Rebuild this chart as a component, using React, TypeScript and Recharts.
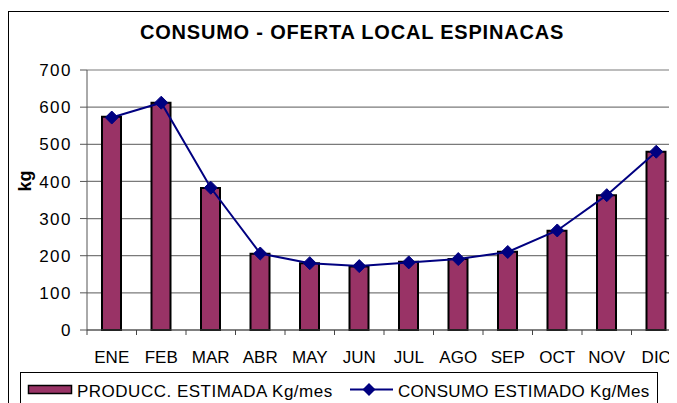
import React from 'react';
import { ComposedChart, Bar, Line, XAxis, YAxis, CartesianGrid, Legend } from 'recharts';

const months = ['ENE', 'FEB', 'MAR', 'ABR', 'MAY', 'JUN', 'JUL', 'AGO', 'SEP', 'OCT', 'NOV', 'DIC'];
const produccion = [574, 612, 382, 205, 180, 171, 184, 191, 211, 267, 363, 480];
const consumo = [572, 612, 383, 206, 180, 172, 182, 191, 210, 268, 363, 480];
const yTicks = [0, 100, 200, 300, 400, 500, 600, 700];

const title = 'CONSUMO - OFERTA LOCAL ESPINACAS';
const yLabel = 'kg';
const barName = 'PRODUCC. ESTIMADA Kg/mes';
const lineName = 'CONSUMO ESTIMADO Kg/Mes';

const data = months.map((m, i) => ({ mes: m, prod: produccion[i], cons: consumo[i] }));

const FONT = "'Liberation Sans', Arial, sans-serif";
const BAR_COLOR = '#993366';
const LINE_COLOR = '#000080';
const HALF_BAND = 24.75;

const XTick = (props: any) => {
  const { x, y, payload } = props;
  return (
    <g>
      <line x1={x - HALF_BAND} x2={x - HALF_BAND} y1={y} y2={y + 5} stroke="#444" strokeWidth={1} />
      <text x={x} y={y + 33} textAnchor="middle" fontFamily={FONT} fontSize={17} fill="#000">
        {payload.value}
      </text>
    </g>
  );
};

const YTick = (props: any) => {
  const { x, y, payload } = props;
  return (
    <text x={x} y={y} dy="0.36em" textAnchor="end" fontFamily={FONT} fontSize={17} letterSpacing={1.5} fill="#000">
      {payload.value}
    </text>
  );
};

const Diamond = (props: any) => {
  const { cx, cy, index } = props;
  if (cx == null || cy == null) return <g key={`d-${index}`} />;
  const r = 6.5;
  return (
    <path
      key={`d-${index}`}
      d={`M${cx},${cy - r} L${cx + r},${cy} L${cx},${cy + r} L${cx - r},${cy} Z`}
      fill={LINE_COLOR}
      stroke={LINE_COLOR}
      strokeWidth={1}
    />
  );
};

const LegendBox = () => (
  <div
    style={{
      position: 'relative',
      width: 638,
      height: 40,
      border: '1px solid #000',
      boxSizing: 'border-box',
      background: '#fff',
    }}
  >
    <svg width={638} height={40} style={{ position: 'absolute', left: -1, top: -1 }}>
      <rect x={8.5} y={13.5} width={43} height={8} fill={BAR_COLOR} stroke="#000" strokeWidth={1.5} />
      <text x={57} y={24.5} fontFamily={FONT} fontSize={17} letterSpacing={0.5} fill="#000">
        {barName}
      </text>
      <line x1={330} x2={373} y1={17.5} y2={17.5} stroke={LINE_COLOR} strokeWidth={2} />
      <path d="M349,11 L355.5,17.5 L349,24 L342.5,17.5 Z" fill={LINE_COLOR} />
      <text x={378} y={24.5} fontFamily={FONT} fontSize={17} letterSpacing={0.3} fill="#000">
        {lineName}
      </text>
    </svg>
  </div>
);

export default function App() {
  return (
    <div style={{ position: 'relative', width: 669, height: 395, overflow: 'hidden', background: '#fff' }}>
      <div
        style={{
          position: 'absolute',
          left: 0,
          top: 3,
          width: 720,
          height: 460,
          border: '1px solid #000',
          boxSizing: 'border-box',
        }}
      />
      <div
        style={{
          position: 'absolute',
          left: 0,
          top: 12,
          width: 688,
          textAlign: 'center',
          fontFamily: FONT,
          fontWeight: 'bold',
          fontSize: 20,
          lineHeight: '24px',
          letterSpacing: 0.8,
          color: '#000',
          zIndex: 2,
        }}
      >
        {title}
      </div>
      <div
        style={{
          position: 'absolute',
          left: 17,
          top: 173,
          transform: 'translate(-50%, -50%) rotate(-90deg)',
          fontFamily: FONT,
          fontWeight: 'bold',
          fontSize: 18,
          lineHeight: '18px',
          color: '#000',
          zIndex: 2,
        }}
      >
        {yLabel}
      </div>
      <div style={{ position: 'absolute', left: 0, top: 0 }}>
        <ComposedChart
          width={700}
          height={395}
          data={data}
          margin={{ top: 62, right: 27, bottom: 43, left: 19 }}
        >
          <CartesianGrid vertical={false} stroke="#7a7a7a" strokeWidth={1.2} />
          <XAxis
            dataKey="mes"
            height={30}
            tickSize={0}
            tickMargin={0}
            tickLine={false}
            axisLine={{ stroke: '#444', strokeWidth: 1 }}
            tick={<XTick />}
            interval={0}
          />
          <YAxis
            width={60}
            domain={[0, 700]}
            ticks={yTicks}
            tickSize={7}
            tickMargin={8}
            axisLine={{ stroke: '#555', strokeWidth: 1 }}
            tickLine={{ stroke: '#555', strokeWidth: 1 }}
            tick={<YTick />}
            interval={0}
          />
          <Bar
            dataKey="prod"
            name={barName}
            fill={BAR_COLOR}
            stroke="#000"
            strokeWidth={2}
            barSize={19}
            isAnimationActive={false}
          />
          <Line
            dataKey="cons"
            name={lineName}
            type="linear"
            stroke={LINE_COLOR}
            strokeWidth={2}
            dot={<Diamond />}
            activeDot={false}
            isAnimationActive={false}
          />
          <Legend
            verticalAlign="middle"
            align="center"
            layout="horizontal"
            content={<LegendBox />}
            wrapperStyle={{ left: 12, top: 364, width: 638, height: 40 }}
          />
        </ComposedChart>
      </div>
    </div>
  );
}
